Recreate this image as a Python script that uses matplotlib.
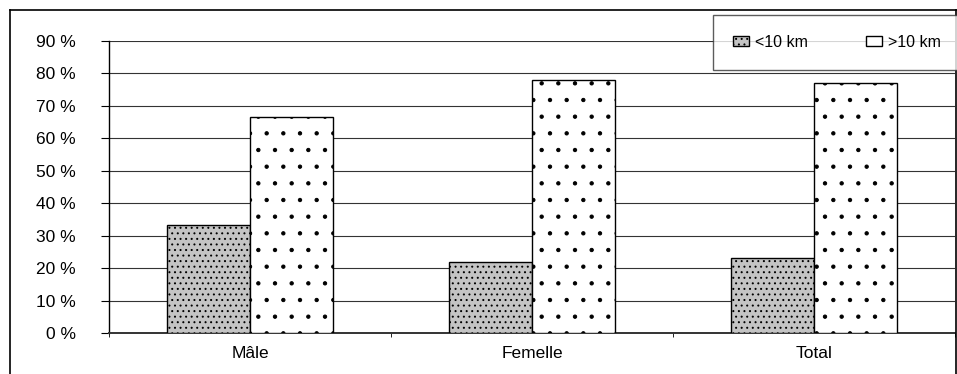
import numpy as np
import matplotlib.pyplot as plt
from matplotlib.lines import Line2D

plt.rcParams['font.family'] = ['Liberation Sans', 'DejaVu Sans']
plt.rcParams['hatch.linewidth'] = 0.7

categories = ['Mâle', 'Femelle', 'Total']
moins_10 = [33.3, 22.0, 23.0]
plus_10 = [66.7, 78.0, 77.0]
yticks = [0, 10, 20, 30, 40, 50, 60, 70, 80, 90]

fig = plt.figure(figsize=(9.57, 3.74), dpi=100)
ax = fig.add_axes([109/957, 1-333/374, 846/957, 292/374])

x = np.arange(len(categories))
w = 0.295
b1 = ax.bar(x - w/2, moins_10, w, color='#c4c4c4', edgecolor='black',
            hatch='...', linewidth=1, zorder=3, label='<10 km')
b2 = ax.bar(x + w/2, plus_10, w, color='white', edgecolor='black',
            hatch='.', linewidth=1, zorder=3, label='>10 km')

ax.set_xlim(-0.5, 2.5)
ax.set_ylim(0, 90)
ax.set_yticks(yticks)
ax.set_yticklabels([f'{v} %' for v in yticks], fontsize=12.5)
ax.yaxis.grid(True, color='#333333', linewidth=0.8, zorder=0)
ax.set_xticks(x)
ax.set_xticklabels(categories, fontsize=12.5)
ax.tick_params(axis='x', length=0, pad=9)
ax.set_xticks([-0.5, 0.5, 1.5, 2.5], minor=True)
ax.tick_params(axis='x', which='minor', length=3, direction='out')
ax.tick_params(axis='y', length=6, direction='out', pad=18)
for s in ['top', 'right']:
    ax.spines[s].set_visible(False)
ax.spines['left'].set_linewidth(1)
ax.spines['bottom'].set_linewidth(1.4)
ax.spines['bottom'].set_color('#333333')

# outer chart border
fig.add_artist(Line2D([10/957, 10/957], [0, 1-10/374], color='black', linewidth=1.2))
fig.add_artist(Line2D([10/957, 1], [1-10/374, 1-10/374], color='black', linewidth=1.2))
fig.add_artist(Line2D([955.5/957, 955.5/957], [0, 1-10/374], color='black', linewidth=1.2))

leg = fig.legend(handles=[b1, b2], loc='upper left',
                 bbox_to_anchor=(713/957, 1-15/374), ncol=2, fontsize=11.5,
                 frameon=True, fancybox=False, edgecolor='#333333',
                 handlelength=1.0, handleheight=0.6, columnspacing=3.6,
                 borderpad=1.25, handletextpad=0.4, borderaxespad=0)
leg.get_frame().set_linewidth(1)

fig.savefig('out.png', dpi=100, facecolor='white')
